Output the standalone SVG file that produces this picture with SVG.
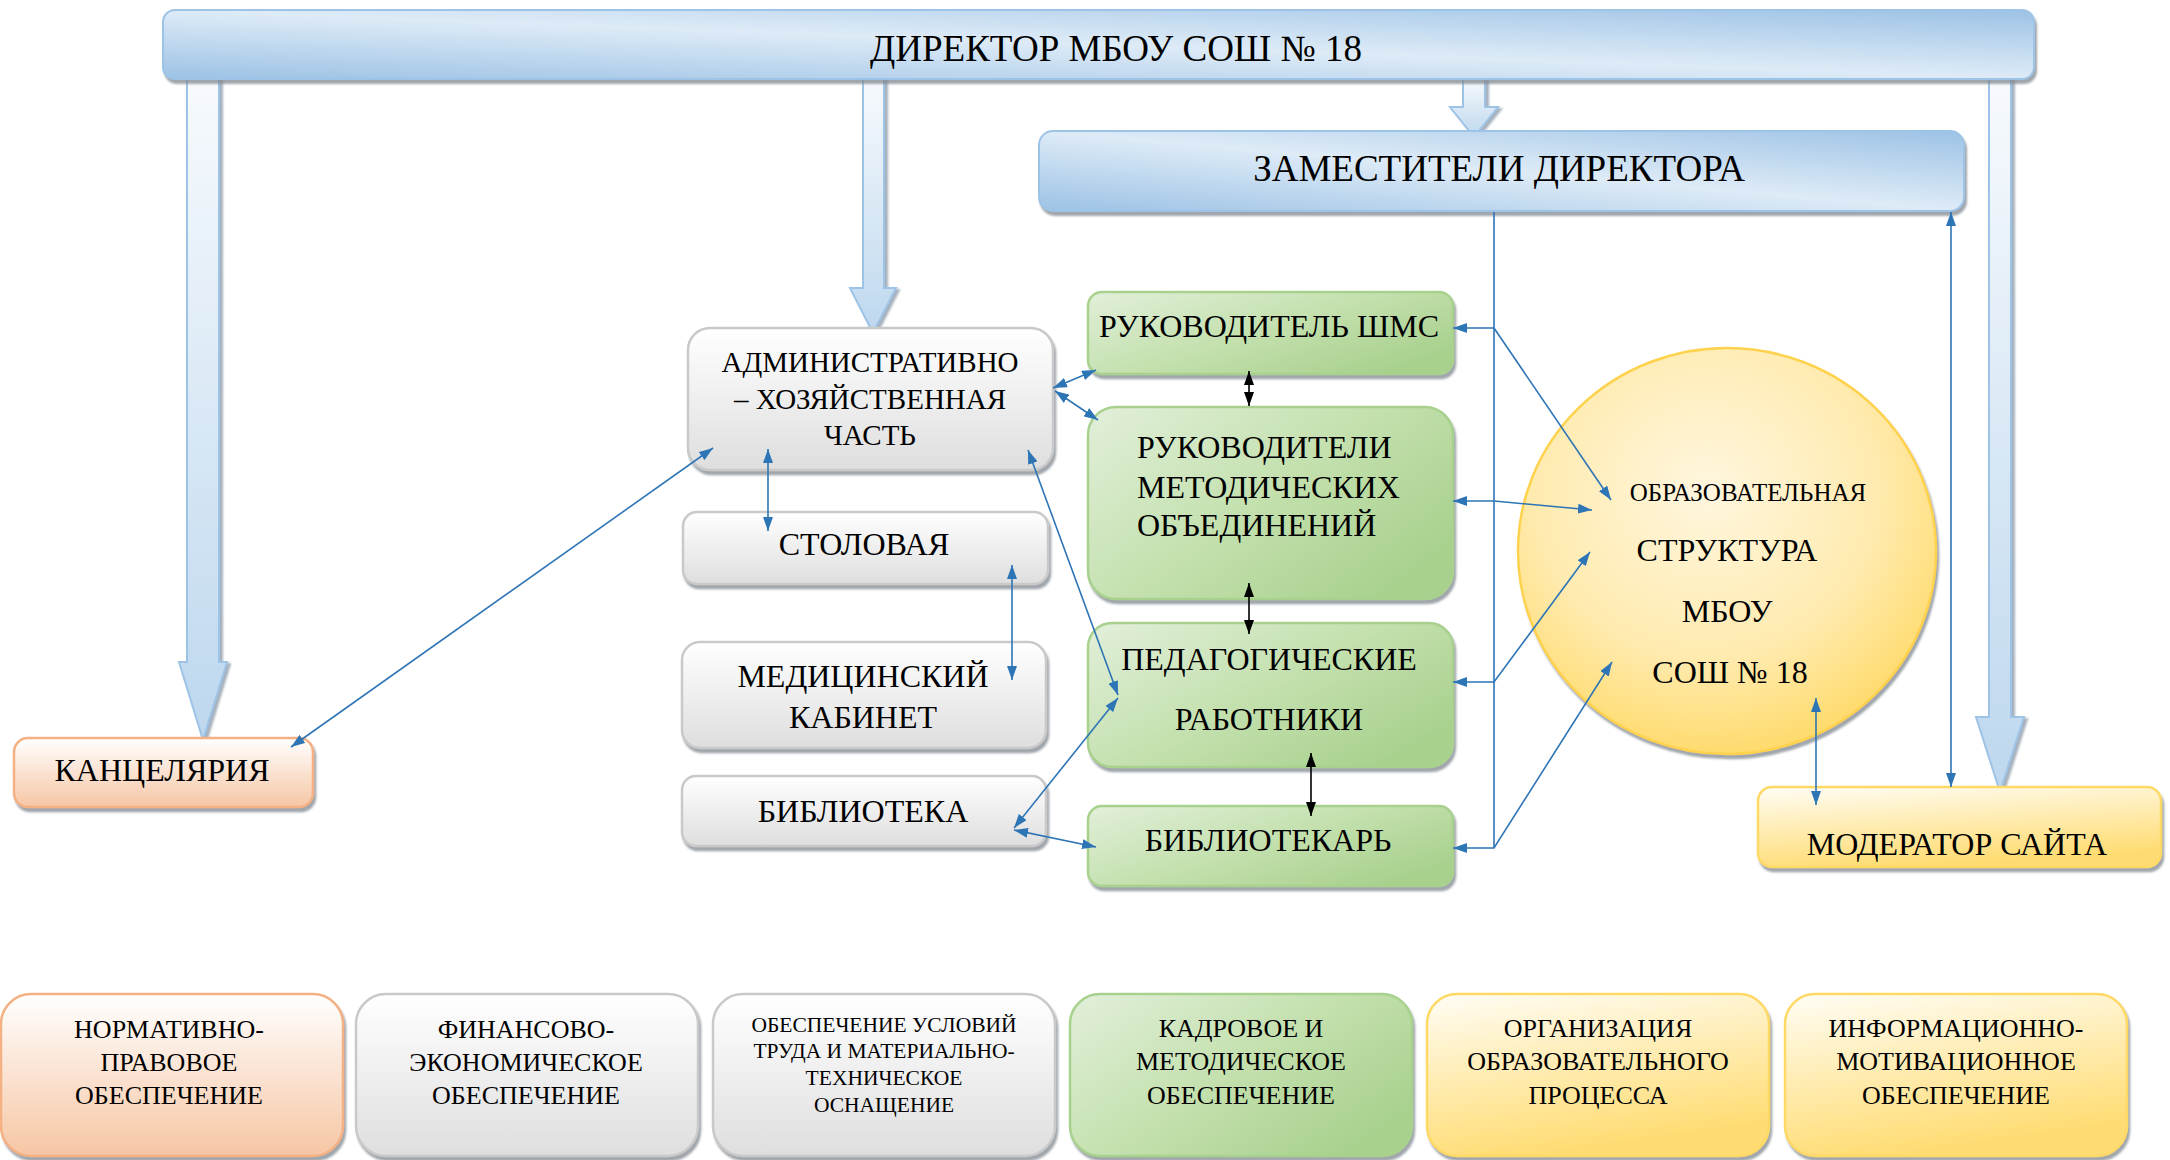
<svg xmlns="http://www.w3.org/2000/svg" width="2170" height="1160" viewBox="0 0 2170 1160">
<style>
.t{font-family:"Liberation Serif","Times New Roman",serif;fill:#000;text-anchor:middle}
.f37{font-size:37px}.f32{font-size:32px}.f29{font-size:29px}.f26{font-size:26px}.f21{font-size:21.5px}.f25{font-size:25px}
.blue{fill:url(#gBlue);stroke:#9dc3e6;stroke-width:2;filter:url(#sh)}
.grey{fill:url(#gGrey);stroke:#c9c9c9;stroke-width:2.5;filter:url(#sh)}
.green{fill:url(#gGreen);stroke:#a9d18e;stroke-width:2.5;filter:url(#sh)}
.peach{fill:url(#gPeach);stroke:#f4b183;stroke-width:2.5;filter:url(#sh)}
.yel{fill:url(#gYel);stroke:#ffd966;stroke-width:2.5;filter:url(#sh)}
.big{fill:url(#gArrow);stroke:#9dc3e6;stroke-width:2;filter:url(#sh2)}
.cb{fill:none;stroke:#2e75b6;stroke-width:1.6;marker-start:url(#ab);marker-end:url(#ab)}
.ck{fill:none;stroke:#000;stroke-width:1.6;marker-start:url(#ak);marker-end:url(#ak)}
.ln{fill:none;stroke:#2e75b6;stroke-width:1.6}
</style>
<defs>
<filter id="sh" x="-10%" y="-10%" width="120%" height="130%"><feDropShadow dx="2" dy="4" stdDeviation="1" flood-color="#808890" flood-opacity="0.75"/></filter>
<filter id="sh2" x="-30%" y="-5%" width="160%" height="110%"><feDropShadow dx="3" dy="2" stdDeviation="1" flood-color="#8090a0" flood-opacity="0.7"/></filter>
<linearGradient id="gBlue" x1="0" y1="1" x2="1" y2="0"><stop offset="0" stop-color="#9cc2e5"/><stop offset="0.5" stop-color="#deebf7"/><stop offset="1" stop-color="#9cc2e5"/></linearGradient>
<linearGradient id="gArrow" x1="0" y1="0" x2="0" y2="1"><stop offset="0" stop-color="#f7fafd"/><stop offset="1" stop-color="#bdd7ee"/></linearGradient>
<linearGradient id="gGrey" x1="0" y1="0" x2="0" y2="1"><stop offset="0" stop-color="#ffffff"/><stop offset="1" stop-color="#dedede"/></linearGradient>
<linearGradient id="gGreen" x1="0" y1="0" x2="1" y2="0.7"><stop offset="0" stop-color="#e2efda"/><stop offset="0.55" stop-color="#c3e0ad"/><stop offset="1" stop-color="#a9d18e"/></linearGradient>
<linearGradient id="gPeach" x1="0" y1="0" x2="0" y2="1"><stop offset="0" stop-color="#ffffff"/><stop offset="1" stop-color="#f6c6a4"/></linearGradient>
<linearGradient id="gYel" x1="0" y1="0" x2="0.3" y2="1"><stop offset="0" stop-color="#fffdf5"/><stop offset="1" stop-color="#ffdc73"/></linearGradient>
<radialGradient id="gCirc" cx="0.45" cy="0.35" r="0.68"><stop offset="0" stop-color="#fff6de"/><stop offset="0.6" stop-color="#ffebb0"/><stop offset="1" stop-color="#ffd966"/></radialGradient>
<marker id="ab" viewBox="0 0 14 10" refX="14" refY="5" markerWidth="14" markerHeight="10" orient="auto-start-reverse" markerUnits="userSpaceOnUse"><path d="M0,0 L14,5 L0,10 z" fill="#2e75b6"/></marker>
<marker id="ak" viewBox="0 0 14 10" refX="14" refY="5" markerWidth="14" markerHeight="10" orient="auto-start-reverse" markerUnits="userSpaceOnUse"><path d="M0,0 L14,5 L0,10 z" fill="#000"/></marker>
</defs>
<rect width="2170" height="1160" fill="#fff"/>

<g id="arrows-thick">
<polygon class="big" points="187,79 219,79 219,662 227,662 203,740 179,662 187,662"/>
<polygon class="big" points="863,79 884,79 884,288 896,288 873,333 850,288 863,288"/>
<polygon class="big" points="1463,79 1485,79 1485,107 1498,107 1474,137 1450,107 1463,107"/>
<polygon class="big" points="1989,79 2011,79 2011,717 2024,717 2000,792 1976,717 1989,717"/>
</g>

<g id="director"><rect class="blue" x="163" y="10" width="1871" height="69" rx="12"/><text class="t f37" x="1116" y="61">ДИРЕКТОР МБОУ СОШ № 18</text></g>
<g id="zam"><rect class="blue" x="1039" y="131" width="925" height="80" rx="14"/><text class="t f37" x="1499" y="181">ЗАМЕСТИТЕЛИ ДИРЕКТОРА</text></g>

<g id="admin"><rect class="grey" x="688" y="328" width="365" height="142" rx="22"/>
<text class="t f29" x="870" y="372">АДМИНИСТРАТИВНО</text><text class="t f29" x="870" y="409">– ХОЗЯЙСТВЕННАЯ</text><text class="t f29" x="870" y="445">ЧАСТЬ</text></g>
<g id="stolovaya"><rect class="grey" x="683" y="512" width="365" height="72" rx="14"/><text class="t f32" x="864" y="555">СТОЛОВАЯ</text></g>
<g id="medkab"><rect class="grey" x="682" y="642" width="364" height="106" rx="18"/><text class="t f32" x="863" y="687">МЕДИЦИНСКИЙ</text><text class="t f32" x="863" y="728">КАБИНЕТ</text></g>
<g id="biblioteka"><rect class="grey" x="682" y="776" width="364" height="70" rx="14"/><text class="t f32" x="863" y="822">БИБЛИОТЕКА</text></g>
<g id="kanc"><rect class="peach" x="14" y="738" width="299" height="69" rx="14"/><text class="t f32" x="162" y="781">КАНЦЕЛЯРИЯ</text></g>

<g id="shms"><rect class="green" x="1088" y="292" width="365" height="82" rx="14"/><text class="t f32" x="1269" y="337">РУКОВОДИТЕЛЬ ШМС</text></g>
<g id="rmo"><rect class="green" x="1088" y="407" width="365" height="192" rx="28"/>
<text class="t f32" x="1137" y="458" style="text-anchor:start">РУКОВОДИТЕЛИ</text><text class="t f32" x="1137" y="498" style="text-anchor:start">МЕТОДИЧЕСКИХ</text><text class="t f32" x="1137" y="536" style="text-anchor:start">ОБЪЕДИНЕНИЙ</text></g>
<g id="ped"><rect class="green" x="1088" y="623" width="365" height="144" rx="24"/><text class="t f32" x="1269" y="670">ПЕДАГОГИЧЕСКИЕ</text><text class="t f32" x="1269" y="730">РАБОТНИКИ</text></g>
<g id="bibliotekar"><rect class="green" x="1088" y="806" width="365" height="80" rx="14"/><text class="t f32" x="1268" y="851">БИБЛИОТЕКАРЬ</text></g>

<g id="structure"><ellipse cx="1727" cy="551" rx="209" ry="203" fill="url(#gCirc)" stroke="#ffd24d" stroke-width="2.5" filter="url(#sh)"/>
<text class="t f25" x="1748" y="501">ОБРАЗОВАТЕЛЬНАЯ</text><text class="t f32" x="1727" y="561">СТРУКТУРА</text><text class="t f32" x="1727" y="622">МБОУ</text><text class="t f32" x="1730" y="683">СОШ № 18</text></g>
<g id="moderator"><rect class="yel" x="1758" y="787" width="403" height="80" rx="14"/><text class="t f32" x="1957" y="855">МОДЕРАТОР САЙТА</text></g>

<g id="connectors">
<line class="cb" x1="291" y1="747" x2="713" y2="448"/>
<line class="cb" x1="768" y1="449" x2="768" y2="531"/>
<line class="cb" x1="1012" y1="565" x2="1012" y2="680"/>
<line class="cb" x1="1053" y1="388" x2="1096" y2="370"/>
<line class="cb" x1="1055" y1="391" x2="1098" y2="420"/>
<line class="cb" x1="1028" y1="450" x2="1118" y2="695"/>
<line class="cb" x1="1014" y1="828" x2="1118" y2="698"/>
<line class="cb" x1="1014" y1="830" x2="1096" y2="847"/>
<line class="ck" x1="1249" y1="371" x2="1249" y2="406"/>
<line class="ck" x1="1249" y1="583" x2="1249" y2="634"/>
<line class="ck" x1="1311" y1="753" x2="1311" y2="816"/>
<line class="ln" x1="1494" y1="212" x2="1494" y2="848"/>
<polyline class="ln" points="1494,328 1453,328" style="marker-end:url(#ab)"/>
<polyline class="ln" points="1494,328 1611,500" style="marker-end:url(#ab)"/>
<polyline class="cb" points="1453,501 1494,501 1592,510"/>
<polyline class="cb" points="1453,682 1494,682 1590,552"/>
<polyline class="cb" points="1453,848 1494,848 1612,662"/>
<line class="cb" x1="1816" y1="698" x2="1816" y2="805"/>
<line class="cb" x1="1951" y1="212" x2="1951" y2="787"/>
</g>

<g id="b1"><rect class="peach" x="1" y="994" width="342" height="162" rx="30"/><text class="t f26" x="169" y="1038">НОРМАТИВНО-</text><text class="t f26" x="169" y="1071">ПРАВОВОЕ</text><text class="t f26" x="169" y="1104">ОБЕСПЕЧЕНИЕ</text></g>
<g id="b2"><rect class="grey" x="356" y="994" width="342" height="162" rx="30"/><text class="t f26" x="526" y="1038">ФИНАНСОВО-</text><text class="t f26" x="526" y="1071">ЭКОНОМИЧЕСКОЕ</text><text class="t f26" x="526" y="1104">ОБЕСПЕЧЕНИЕ</text></g>
<g id="b3"><rect class="grey" x="713" y="994" width="342" height="162" rx="30"/><text class="t f21" x="884" y="1032">ОБЕСПЕЧЕНИЕ УСЛОВИЙ</text><text class="t f21" x="884" y="1058">ТРУДА И МАТЕРИАЛЬНО-</text><text class="t f21" x="884" y="1085">ТЕХНИЧЕСКОЕ</text><text class="t f21" x="884" y="1112">ОСНАЩЕНИЕ</text></g>
<g id="b4"><rect class="green" x="1070" y="994" width="342" height="162" rx="30"/><text class="t f26" x="1241" y="1037">КАДРОВОЕ И</text><text class="t f26" x="1241" y="1070">МЕТОДИЧЕСКОЕ</text><text class="t f26" x="1241" y="1104">ОБЕСПЕЧЕНИЕ</text></g>
<g id="b5"><rect class="yel" x="1427" y="994" width="342" height="162" rx="30"/><text class="t f26" x="1598" y="1037">ОРГАНИЗАЦИЯ</text><text class="t f26" x="1598" y="1070">ОБРАЗОВАТЕЛЬНОГО</text><text class="t f26" x="1598" y="1104">ПРОЦЕССА</text></g>
<g id="b6"><rect class="yel" x="1785" y="994" width="342" height="162" rx="30"/><text class="t f26" x="1956" y="1037">ИНФОРМАЦИОННО-</text><text class="t f26" x="1956" y="1070">МОТИВАЦИОННОЕ</text><text class="t f26" x="1956" y="1104">ОБЕСПЕЧЕНИЕ</text></g>
</svg>
